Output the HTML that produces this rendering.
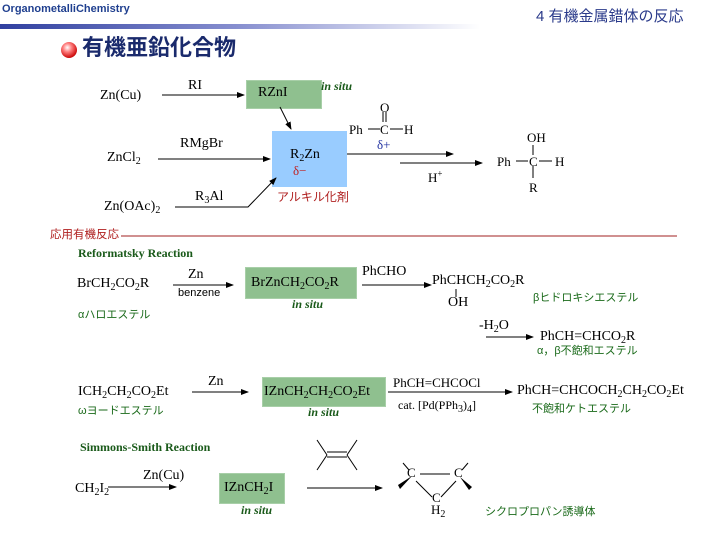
<!DOCTYPE html>
<html><head><meta charset="utf-8"><style>
body{margin:0;width:719px;height:539px;background:#fff;position:relative;overflow:hidden;font-family:"Liberation Serif","Noto Serif CJK SC",serif;}
.t{position:absolute;white-space:nowrap;font-size:14px;color:#000;line-height:1;}
.j{font-family:"Liberation Sans","Noto Sans CJK JP",sans-serif;font-size:11px;color:#1a6a1a;}
.g{color:#1a5a1a;font-weight:bold;font-style:italic;font-size:12px;}
.box{position:absolute;background:#8fc08f;border:1px solid #a8cfa8;}
sub{font-size:10px;vertical-align:-3px;line-height:0}
sup{font-size:9px;line-height:0}
</style></head><body>
<div style="position:absolute;left:0;top:24px;width:480px;height:5px;background:linear-gradient(90deg,#3040a0,#8890d0 50%,#fff)"></div>
<div class="t" style="left:2px;top:4px;font-family:'Liberation Sans',sans-serif;font-weight:bold;font-size:11px;color:#1f3f8f">OrganometalliChemistry</div>
<div class="t" style="left:536px;top:9px;font-family:'Liberation Sans','Noto Sans CJK JP',sans-serif;font-size:15px;color:#2a3a8a">4 有機金属錯体の反応</div>
<div style="position:absolute;left:61px;top:42px;width:16px;height:16px;border-radius:50%;background:radial-gradient(circle at 40% 35%,#fff 0,#ff8080 30%,#d01010 70%,#901010)"></div>
<div class="t" style="left:82px;top:37px;font-family:'Liberation Sans','Noto Sans CJK JP',sans-serif;font-size:22px;font-weight:bold;color:#1a2a6c">有機亜鉛化合物</div>

<div class="box" style="left:246px;top:80px;width:74px;height:27px"></div>
<div class="box" style="left:272px;top:131px;width:73px;height:54px;background:#99ccff;border-color:#99ccff"></div>
<div class="box" style="left:245px;top:267px;width:110px;height:30px"></div>
<div class="box" style="left:262px;top:377px;width:122px;height:28px"></div>
<div class="box" style="left:219px;top:473px;width:64px;height:29px"></div>

<svg width="719" height="539" style="position:absolute;left:0;top:0">
<defs><marker id="a" markerWidth="8" markerHeight="6" refX="7" refY="3" orient="auto"><path d="M0,0L8,3L0,6z" fill="#000"/></marker></defs>
<g stroke="#000" stroke-width="1" fill="none">
<line x1="162" y1="95" x2="244" y2="95" marker-end="url(#a)"/>
<line x1="280" y1="107" x2="291" y2="129" marker-end="url(#a)"/>
<line x1="158" y1="159" x2="270" y2="159" marker-end="url(#a)"/>
<polyline points="175,207 248,207 276,178" marker-end="url(#a)"/>
<line x1="383" y1="112" x2="383" y2="122"/><line x1="386" y1="112" x2="386" y2="122"/>
<line x1="368" y1="129" x2="380" y2="129"/><line x1="390" y1="129" x2="403" y2="129"/>
<line x1="347" y1="154" x2="453" y2="154" marker-end="url(#a)"/>
<line x1="400" y1="163" x2="482" y2="163" marker-end="url(#a)"/>
<line x1="533" y1="145" x2="533" y2="155"/><line x1="533" y1="166" x2="533" y2="178"/>
<line x1="516" y1="161" x2="528" y2="161"/><line x1="539" y1="161" x2="552" y2="161"/>
<line x1="173" y1="285" x2="233" y2="285" marker-end="url(#a)"/>
<line x1="362" y1="285" x2="431" y2="285" marker-end="url(#a)"/>
<line x1="456" y1="289" x2="456" y2="297"/>
<line x1="486" y1="337" x2="533" y2="337" marker-end="url(#a)"/>
<line x1="192" y1="392" x2="248" y2="392" marker-end="url(#a)"/>
<line x1="388" y1="392" x2="512" y2="392" marker-end="url(#a)"/>
<line x1="108" y1="487" x2="176" y2="487" marker-end="url(#a)"/>
<line x1="307" y1="488" x2="382" y2="488" marker-end="url(#a)"/>
<line x1="327" y1="452" x2="347" y2="452"/><line x1="327" y1="457" x2="347" y2="457"/>
<line x1="327" y1="455" x2="317" y2="440"/><line x1="327" y1="455" x2="317" y2="470"/>
<line x1="347" y1="455" x2="357" y2="440"/><line x1="347" y1="455" x2="357" y2="470"/>
<line x1="420" y1="474" x2="450" y2="474"/>
<line x1="416" y1="481" x2="432" y2="497"/><line x1="456" y1="481" x2="441" y2="497"/>
<line x1="409" y1="470" x2="403" y2="463"/><line x1="462" y1="470" x2="468" y2="463"/>
<line x1="120" y1="236" x2="677" y2="236" stroke="#a02020"/>
</g>
<path d="M412,476L398,485L400,489z" fill="#000"/>
<path d="M460,477L472,487L469,490z" fill="#000"/>
</svg>

<div class="t" style="left:100px;top:89px">Zn(Cu)</div>
<div class="t" style="left:188px;top:79px">RI</div>
<div class="t" style="left:258px;top:86px">RZnI</div>
<div class="t g" style="left:321px;top:80px">in situ</div>
<div class="t" style="left:107px;top:151px">ZnCl<sub>2</sub></div>
<div class="t" style="left:180px;top:137px">RMgBr</div>
<div class="t" style="left:290px;top:148px">R<sub>2</sub>Zn</div>
<div class="t" style="left:293px;top:164px;color:#c02020;font-size:13px">δ−</div>
<div class="t" style="left:104px;top:200px">Zn(OAc)<sub>2</sub></div>
<div class="t" style="left:195px;top:190px">R<sub>3</sub>Al</div>
<div class="t j" style="left:277px;top:191px;color:#b02020;font-size:12px">アルキル化剤</div>
<div class="t" style="left:380px;top:101px;font-size:13px">O</div>
<div class="t" style="left:349px;top:123px;font-size:13px">Ph</div>
<div class="t" style="left:380px;top:123px;font-size:13px">C</div>
<div class="t" style="left:404px;top:123px;font-size:13px">H</div>
<div class="t" style="left:377px;top:138px;color:#2030a0;font-size:13px">δ+</div>
<div class="t" style="left:428px;top:171px;font-size:13px">H<sup>+</sup></div>
<div class="t" style="left:527px;top:131px;font-size:13px">OH</div>
<div class="t" style="left:497px;top:155px;font-size:13px">Ph</div>
<div class="t" style="left:529px;top:155px;font-size:13px">C</div>
<div class="t" style="left:555px;top:155px;font-size:13px">H</div>
<div class="t" style="left:529px;top:181px;font-size:13px">R</div>

<div class="t j" style="left:50px;top:230px;color:#b02020;font-size:11.5px;background:#fff;padding-right:2px">応用有機反応</div>
<div class="t" style="left:78px;top:247px;color:#1a5a1a;font-weight:bold;font-size:12px">Reformatsky Reaction</div>
<div class="t" style="left:77px;top:277px">BrCH<sub>2</sub>CO<sub>2</sub>R</div>
<div class="t" style="left:188px;top:268px">Zn</div>
<div class="t" style="left:178px;top:288px;font-family:'Liberation Sans',sans-serif;font-size:11px">benzene</div>
<div class="t" style="left:251px;top:276px">BrZnCH<sub>2</sub>CO<sub>2</sub>R</div>
<div class="t g" style="left:292px;top:298px">in situ</div>
<div class="t" style="left:362px;top:265px">PhCHO</div>
<div class="t" style="left:432px;top:274px">PhCHCH<sub>2</sub>CO<sub>2</sub>R</div>
<div class="t" style="left:448px;top:296px">OH</div>
<div class="t j" style="left:533px;top:293px">βヒドロキシエステル</div>
<div class="t j" style="left:78px;top:310px">αハロエステル</div>
<div class="t" style="left:479px;top:319px">-H<sub>2</sub>O</div>
<div class="t" style="left:540px;top:330px">PhCH=CHCO<sub>2</sub>R</div>
<div class="t j" style="left:537px;top:346px">α，β不飽和エステル</div>
<div class="t" style="left:78px;top:385px">ICH<sub>2</sub>CH<sub>2</sub>CO<sub>2</sub>Et</div>
<div class="t" style="left:208px;top:375px">Zn</div>
<div class="t" style="left:264px;top:385px">IZnCH<sub>2</sub>CH<sub>2</sub>CO<sub>2</sub>Et</div>
<div class="t g" style="left:308px;top:406px">in situ</div>
<div class="t" style="left:393px;top:376px;font-size:13px">PhCH=CHCOCl</div>
<div class="t" style="left:398px;top:399px;font-size:12px">cat. [Pd(PPh<sub>3</sub>)<sub>4</sub>]</div>
<div class="t" style="left:517px;top:384px">PhCH=CHCOCH<sub>2</sub>CH<sub>2</sub>CO<sub>2</sub>Et</div>
<div class="t j" style="left:532px;top:404px">不飽和ケトエステル</div>
<div class="t j" style="left:78px;top:406px">ωヨードエステル</div>

<div class="t" style="left:80px;top:441px;color:#1a5a1a;font-weight:bold;font-size:12px">Simmons-Smith Reaction</div>
<div class="t" style="left:75px;top:482px">CH<sub>2</sub>I<sub>2</sub></div>
<div class="t" style="left:143px;top:469px">Zn(Cu)</div>
<div class="t" style="left:224px;top:481px">IZnCH<sub>2</sub>I</div>
<div class="t g" style="left:241px;top:504px">in situ</div>
<div class="t" style="left:407px;top:466px;font-size:13px">C</div>
<div class="t" style="left:454px;top:466px;font-size:13px">C</div>
<div class="t" style="left:432px;top:491px;font-size:13px">C</div>
<div class="t" style="left:431px;top:503px;font-size:13px">H<sub>2</sub></div>
<div class="t j" style="left:485px;top:507px">シクロプロパン誘導体</div>
</body></html>
